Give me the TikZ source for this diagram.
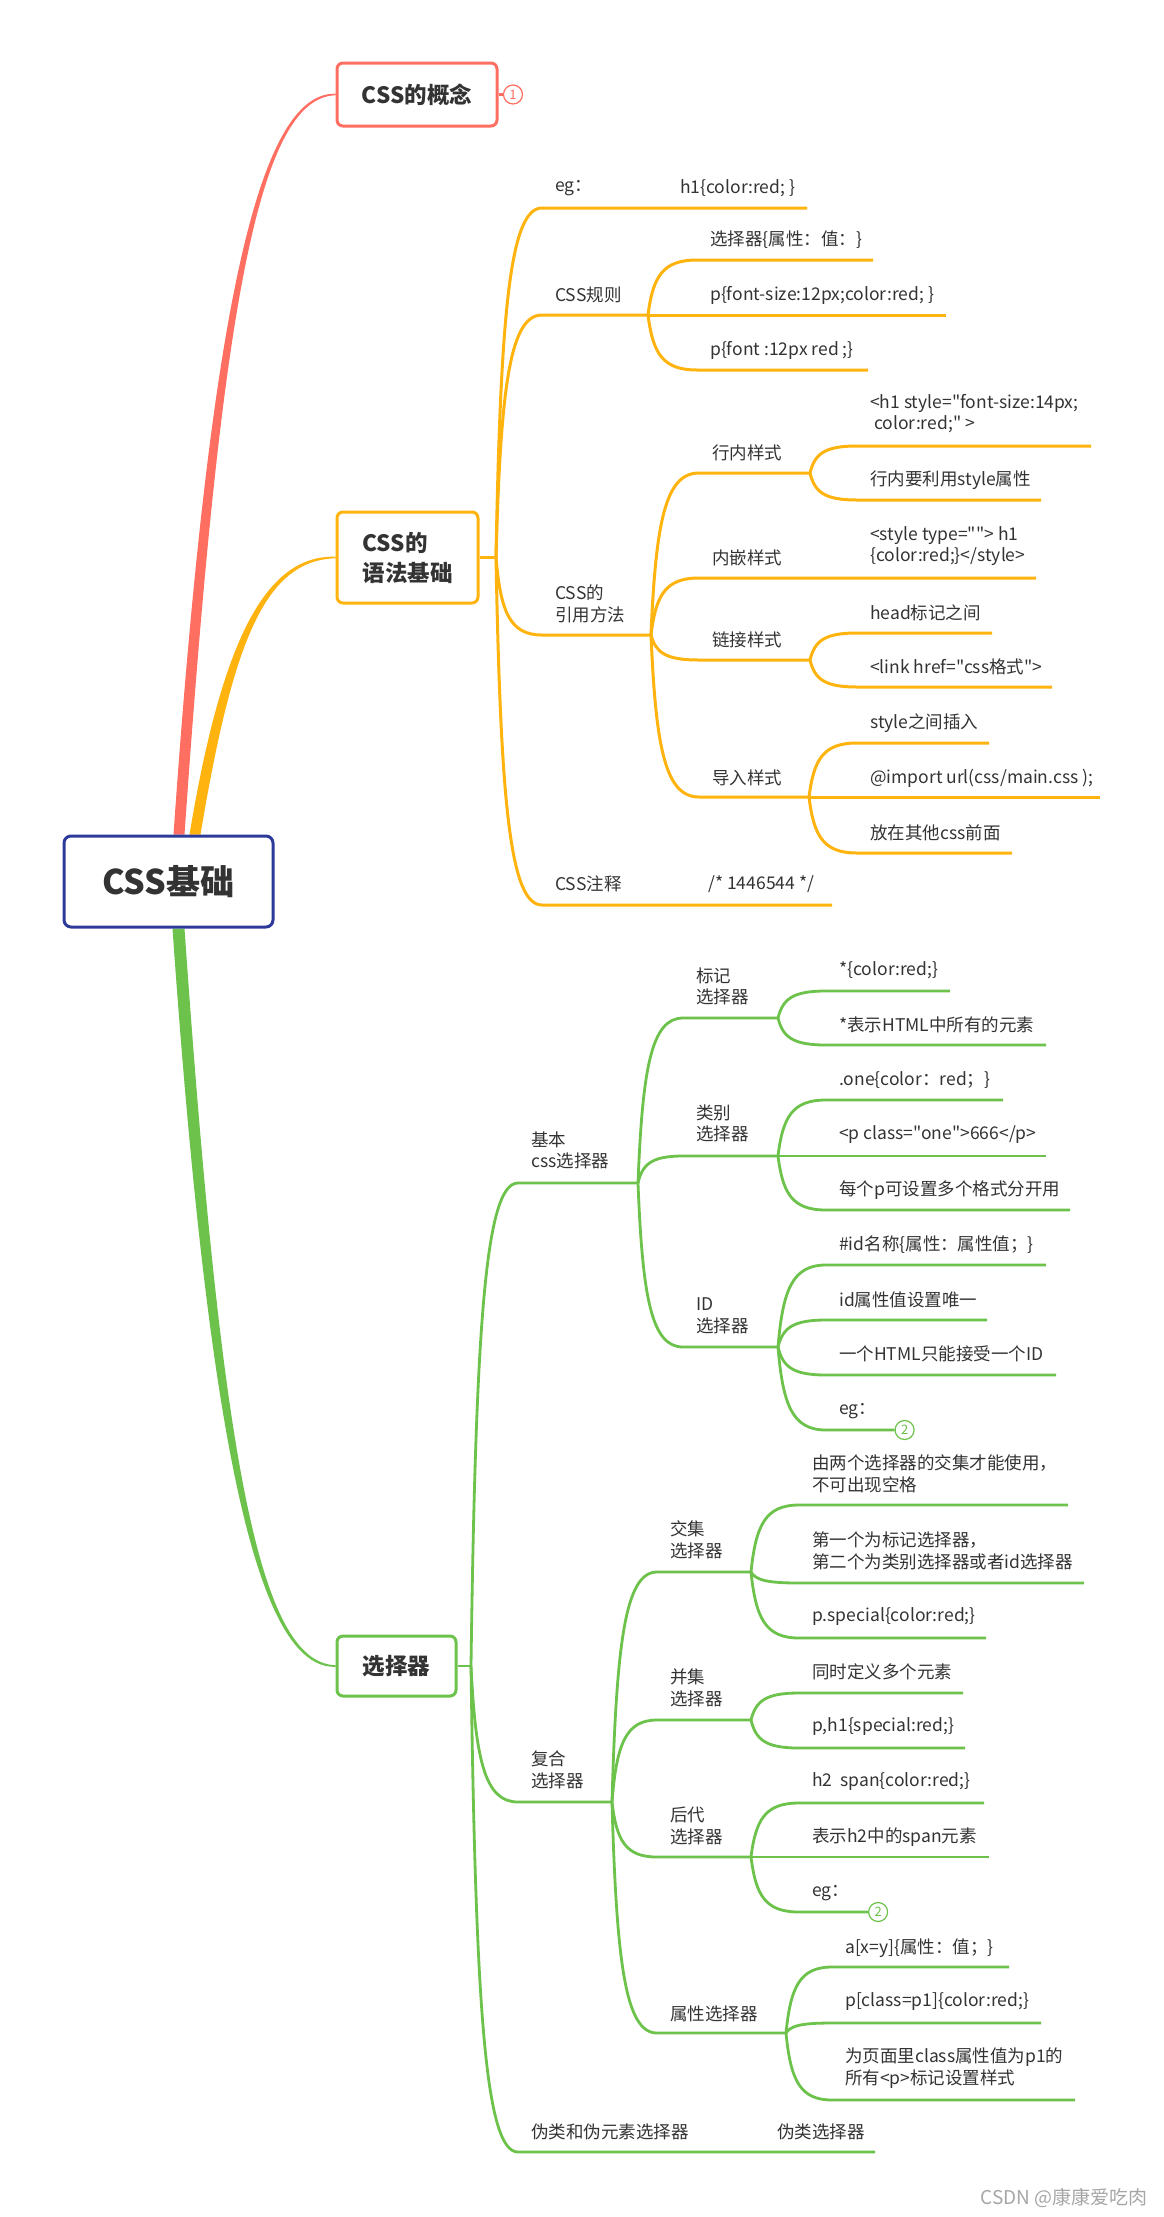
\documentclass[tikz,border=0pt]{standalone}
\usepackage{fontspec}
\setmainfont{Noto Sans CJK SC}[Ligatures=TeXOff]
\usetikzlibrary{calc,backgrounds}

\definecolor{cssred}{HTML}{FF6F61}
\definecolor{cssorange}{HTML}{FFB30F}
\definecolor{cssgreen}{HTML}{6CC24A}
\definecolor{cssblue}{HTML}{2E3A9A}
\definecolor{ink}{HTML}{333333}

\tikzset{
  rootbox/.style={draw=cssblue,line width=3pt,rounded corners=7pt,fill=white,
    minimum width=209pt,minimum height=91pt,text=ink,
    font=\fontsize{34}{40}\selectfont\bfseries},
  topic/.style={line width=3pt,rounded corners=6pt,fill=white,text=ink,
    inner sep=0pt,font=\fontsize{22.5}{30}\selectfont\bfseries},
  lbl/.style={anchor=west,inner sep=0pt,align=left,text=ink,
    font=\fontsize{17.5}{21.7}\selectfont},
  badge/.style={circle,draw,fill=white,line width=1.2pt,minimum size=19pt,
    inner sep=0pt,font=\fontsize{13}{13}\selectfont},
  br/.style={to path={let \p1=(\tikztostart),\p2=(\tikztotarget) in
    .. controls ({\x1+0.1*(\x2-\x1)},{\y1+0.7*(\y2-\y1)})
    and ({\x1+0.3*(\x2-\x1)},\y2) .. (\tikztotarget)}},
  rbr/.style={draw=cssred,line width=3pt},
  obr/.style={draw=cssorange,line width=3pt},
  gbr/.style={draw=cssgreen,line width=2.8pt},
}

% tapered branch from the central topic
\newcommand\mainbranch[4]{%
  \fill[#3] let \p1=(#1),\p2=(#2),\n1={sign(\y2-\y1)} in
    ({\x1-#4},\y1) .. controls ({\x1+0.23*(\x2-\x1)-#4},{\y1+0.7*(\y2-\y1)})
      and ({\x1+0.5*(\x2-\x1)},{\y2+\n1*#4*0.5}) .. (\x2,{\y2+\n1*0.8pt})
    -- (\x2,{\y2-\n1*0.8pt})
    .. controls ({\x1+0.5*(\x2-\x1)},{\y2-\n1*#4*0.5})
      and ({\x1+0.23*(\x2-\x1)+#4},{\y1+0.7*(\y2-\y1)}) .. ({\x1+#4},\y1)
    -- cycle;}

% name, line start, line end, line y, text y, text
\newcommand\leaf[6]{%
  \coordinate (#10) at (#2,#4);
  \coordinate (#11) at (#3,#4);
  \node[lbl] (#1) at ({#2+13},#5) {#6};}

\begin{document}
\begin{tikzpicture}[x=1pt,y=-1pt]
\useasboundingbox (0,0) rectangle (1163,2217);

% topics
\node[rootbox] (root) at (168.5,881.5) {CSS基础};
\node[topic,draw=cssred,minimum width=160pt,minimum height=63pt] (concept) at (417,94.5) {CSS的概念};
\node[topic,draw=cssorange,minimum width=141pt,minimum height=91pt,align=left] (syn) at (407.5,557.5) {CSS的\\语法基础};
\node[topic,draw=cssgreen,minimum width=119pt,minimum height=60pt] (sel) at (396.5,1666) {选择器};

\begin{scope}[on background layer]
  \mainbranch{$(root.north)+(10.5,0)$}{concept.west}{cssred}{5.5pt}
  \mainbranch{$(root.north)+(26.5,0)$}{syn.west}{cssorange}{5.5pt}
  \mainbranch{$(root.south)+(10,0)$}{sel.west}{cssgreen}{6pt}
\end{scope}

\node[badge,draw=cssred,text=cssred] (b1) at (513,94.5) {1};
\draw[rbr] (concept.east) -- (b1.west);

% syntax
\coordinate (ofk) at (496,557.5);
\leaf{eg}{542}{807}{208}{188}{eg：}
\node[lbl] (egv) at (680,188) {h1\{color:red; \}};
\leaf{rule}{542}{648}{315}{295}{CSS规则}
\leaf{rA}{697}{873}{260}{240}{选择器\{属性：值：\}}
\leaf{rB}{697}{946}{315}{295}{p\{font-size:12px;color:red; \}}
\leaf{rC}{697}{868}{370}{350}{p\{font :12px red ;\}}
\leaf{ref}{542}{651}{635}{604}{CSS的\\引用方法}
\leaf{inl}{699}{810}{473}{453}{行内样式}
\leaf{inlA}{857}{1091}{446}{413.5}{<h1 style="font-size:14px;\\\ color:red;" >}
\leaf{inlB}{857}{1041}{500}{480}{行内要利用style属性}
\leaf{emb}{699}{1036}{578}{558}{内嵌样式}
\node[lbl] (embv) at (870,546) {<style type=""> h1\\\{color:red;\}</style>};
\leaf{lnk}{699}{810}{660}{640}{链接样式}
\leaf{lnkA}{857}{992}{633}{613}{head标记之间}
\leaf{lnkB}{857}{1052}{687}{667}{<link href="css格式">}
\leaf{imp}{699}{809}{797}{778}{导入样式}
\leaf{impA}{857}{989}{743}{723}{style之间插入}
\leaf{impB}{857}{1100}{797}{778}{@import url(css/main.css );}
\leaf{impC}{857}{1012}{853}{833}{放在其他css前面}
\leaf{note}{542}{832}{905}{884}{CSS注释}
\node[lbl] (notev) at (708,884) {/* 1446544 */};

\draw[obr] (syn.east) -- (ofk);
\foreach \nm in {eg,rule,ref,note} \draw[obr] (ofk) to[br] (\nm0) -- (\nm1);
\foreach \nm in {rA,rB,rC} \draw[obr] (rule1) to[br] (\nm0) -- (\nm1);
\foreach \nm in {inl,emb,lnk,imp} \draw[obr] (ref1) to[br] (\nm0) -- (\nm1);
\foreach \nm in {inlA,inlB} \draw[obr] (inl1) to[br] (\nm0) -- (\nm1);
\foreach \nm in {lnkA,lnkB} \draw[obr] (lnk1) to[br] (\nm0) -- (\nm1);
\foreach \nm in {impA,impB,impC} \draw[obr] (imp1) to[br] (\nm0) -- (\nm1);

% selectors
\coordinate (gfk) at (471,1666);
\leaf{basic}{518}{638}{1183}{1150.5}{基本\\css选择器}
\leaf{tag}{683}{778}{1018}{986.5}{标记\\选择器}
\leaf{tagA}{826}{950}{991}{970}{*\{color:red;\}}
\leaf{tagB}{826}{1046}{1045}{1025}{*表示HTML中所有的元素}
\leaf{cls}{683}{778}{1156}{1123.5}{类别\\选择器}
\leaf{clsA}{826}{1003}{1100}{1080}{.one\{color：red；\}}
\leaf{clsB}{826}{1046}{1156}{1135}{<p class="one">666</p>}
\leaf{clsC}{826}{1070}{1210}{1190}{每个p可设置多个格式分开用}
\leaf{idsel}{683}{778}{1347}{1316}{ID\\选择器}
\leaf{idA}{826}{1046}{1265}{1245}{\#id名称\{属性：属性值；\}}
\leaf{idB}{826}{987}{1320}{1300}{id属性值设置唯一}
\leaf{idC}{826}{1056}{1375}{1354}{一个HTML只能接受一个ID}
\leaf{idD}{826}{894.5}{1430}{1411}{eg：}
\leaf{comp}{518}{612}{1802}{1770}{复合\\选择器}
\leaf{inter}{657}{751}{1572}{1540}{交集\\选择器}
\leaf{interA}{799}{1068}{1505}{1474}{由两个选择器的交集才能使用，\\不可出现空格}
\leaf{interB}{799}{1084}{1583}{1551}{第一个为标记选择器，\\第二个为类别选择器或者id选择器}
\leaf{interC}{799}{986}{1638}{1617}{p.special\{color:red;\}}
\leaf{union}{657}{751}{1720}{1688}{并集\\选择器}
\leaf{unionA}{799}{963}{1693}{1672}{同时定义多个元素}
\leaf{unionB}{799}{965}{1748}{1727}{p,h1\{special:red;\}}
\leaf{desc}{657}{751}{1857}{1826}{后代\\选择器}
\leaf{descA}{799}{984}{1803}{1782}{h2\ \ span\{color:red;\}}
\leaf{descB}{799}{989}{1857}{1837}{表示h2中的span元素}
\leaf{descC}{799}{868}{1912}{1893}{eg：}
\leaf{attr}{657}{786}{2033}{2014}{属性选择器}
\leaf{attrA}{832}{1009}{1967}{1948}{a[x=y]\{属性：值；\}}
\leaf{attrB}{832}{1041}{2023}{2002}{p[class=p1]\{color:red;\}}
\leaf{attrC}{832}{1075}{2100}{2068}{为页面里class属性值为p1的\\所有<p>标记设置样式}
\leaf{pseudo}{518}{875}{2152}{2132}{伪类和伪元素选择器}
\node[lbl] (pseudov) at (777,2132) {伪类选择器};

\draw[gbr] (sel.east) -- (gfk);
\foreach \nm in {basic,comp,pseudo} \draw[gbr] (gfk) to[br] (\nm0) -- (\nm1);
\foreach \nm in {tag,cls,idsel} \draw[gbr] (basic1) to[br] (\nm0) -- (\nm1);
\foreach \nm in {tagA,tagB} \draw[gbr] (tag1) to[br] (\nm0) -- (\nm1);
\foreach \nm in {clsA,clsB,clsC} \draw[gbr] (cls1) to[br] (\nm0) -- (\nm1);
\foreach \nm in {idA,idB,idC,idD} \draw[gbr] (idsel1) to[br] (\nm0) -- (\nm1);
\foreach \nm in {inter,union,desc,attr} \draw[gbr] (comp1) to[br] (\nm0) -- (\nm1);
\foreach \nm in {interA,interB,interC} \draw[gbr] (inter1) to[br] (\nm0) -- (\nm1);
\foreach \nm in {unionA,unionB} \draw[gbr] (union1) to[br] (\nm0) -- (\nm1);
\foreach \nm in {descA,descB,descC} \draw[gbr] (desc1) to[br] (\nm0) -- (\nm1);
\foreach \nm in {attrA,attrB,attrC} \draw[gbr] (attr1) to[br] (\nm0) -- (\nm1);

\node[badge,draw=cssgreen,text=cssgreen,anchor=west] (b2) at (idD1) {2};
\node[badge,draw=cssgreen,text=cssgreen,anchor=west] (b3) at (descC1) {2};

\node[anchor=east,inner sep=0pt,text=black!35,font=\fontsize{19}{19}\selectfont] (wm) at (1148,2198) {CSDN @康康爱吃肉};
\end{tikzpicture}
\end{document}
